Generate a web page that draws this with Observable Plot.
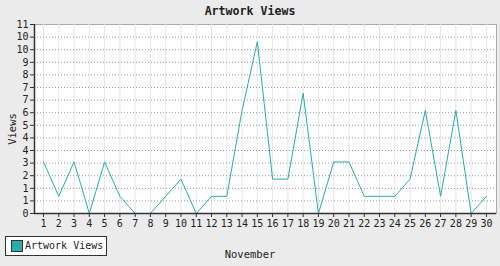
<!DOCTYPE html>
<html>
<head>
<meta charset="utf-8">
<script src="https://cdn.jsdelivr.net/npm/d3@7"></script>
<script src="https://cdn.jsdelivr.net/npm/@observablehq/plot@0.6"></script>
<style>
  html, body { margin: 0; padding: 0; background: #ebebeb; }
  #wrap { position: relative; width: 500px; height: 266px; background: #ebebeb; font-family: "DejaVu Sans Mono", monospace; color: #222; }
  #wrap svg { position: absolute; left: 0; top: 0; }
  .t { position: absolute; white-space: nowrap; }
  #title { left: 0; width: 500px; top: 4px; text-align: center; font-weight: bold; font-size: 11.6px; }
  #xlabel { left: 0; width: 500px; top: 248px; text-align: center; font-size: 10.5px; }
  #ylabel { left: 12px; top: 129px; font-size: 10.5px; transform: translate(-50%, -50%) rotate(-90deg); }
  #legend { left: 5px; top: 236px; width: 102px; height: 20px; border: 1px solid #333; background: #fff; box-sizing: border-box; font-size: 10px; }
  #legend .sw { position: absolute; left: 5px; top: 3px; width: 10px; height: 10px; background: #2aadad; border: 1px solid #333; }
  #legend .lb { position: absolute; left: 19px; top: 3px; }
</style>
</head>
<body>
<div id="wrap">
  <div id="chart"></div>
  <div class="t" id="title">Artwork Views</div>
  <div class="t" id="ylabel">Views</div>
  <div class="t" id="xlabel">November</div>
  <div class="t" id="legend"><div class="sw"></div><div class="lb">Artwork Views</div></div>
</div>
<script>
const days = [1,2,3,4,5,6,7,8,9,10,11,12,13,14,15,16,17,18,19,20,21,22,23,24,25,26,27,28,29,30];
const views = [3,1,3,0,3,1,0,0,1,2,0,1,1,6,10,2,2,7,0,3,3,1,1,1,2,6,1,6,0,1];
const yTickValues = [0,0.7333,1.4667,2.2,2.9333,3.6667,4.4,5.1333,5.8667,6.6,7.3333,8.0667,8.8,9.5333,10.2667,11];
const yTickLabels = ["0","1","1","2","3","4","4","5","6","7","7","8","9","10","10","11"];

const data = days.map((d, i) => ({day: d, views: views[i]}));
const xDomain = [0.41, 30.66];
const lineColor = "#2aadad";

const chart = Plot.plot({
  width: 500,
  height: 266,
  marginLeft: 34,
  marginTop: 24,
  marginRight: 4,
  marginBottom: 53,
  style: {background: "transparent", fontFamily: "DejaVu Sans Mono, monospace", fontSize: "10px", color: "#222"},
  x: {domain: xDomain},
  y: {domain: [0, 11]},
  marks: [
    Plot.frame({fill: "white", stroke: "#aaa"}),
    Plot.ruleX(days, {stroke: "#e6e6e6", strokeWidth: 1}),
    Plot.ruleY(yTickValues.slice(1, -1), {stroke: "#999", strokeDasharray: "1,2", strokeWidth: 1}),
    Plot.line(data, {x: "day", y: "views", stroke: lineColor, strokeWidth: 1}),
    Plot.ruleX([xDomain[0]], {stroke: "#333", strokeWidth: 1.5}),
    Plot.ruleY([0], {stroke: "#333", strokeWidth: 1.5}),
    Plot.axisY({ticks: yTickValues, tickFormat: (d, i) => yTickLabels[i], tickSize: 4, tickPadding: 2, label: null, stroke: "#333", fill: "#222"}),
    Plot.axisX({ticks: days, tickFormat: d => String(d), tickSize: 4, tickPadding: 2, label: null, stroke: "#333", fill: "#222"})
  ]
});
document.getElementById("chart").appendChild(chart);
</script>
</body>
</html>
